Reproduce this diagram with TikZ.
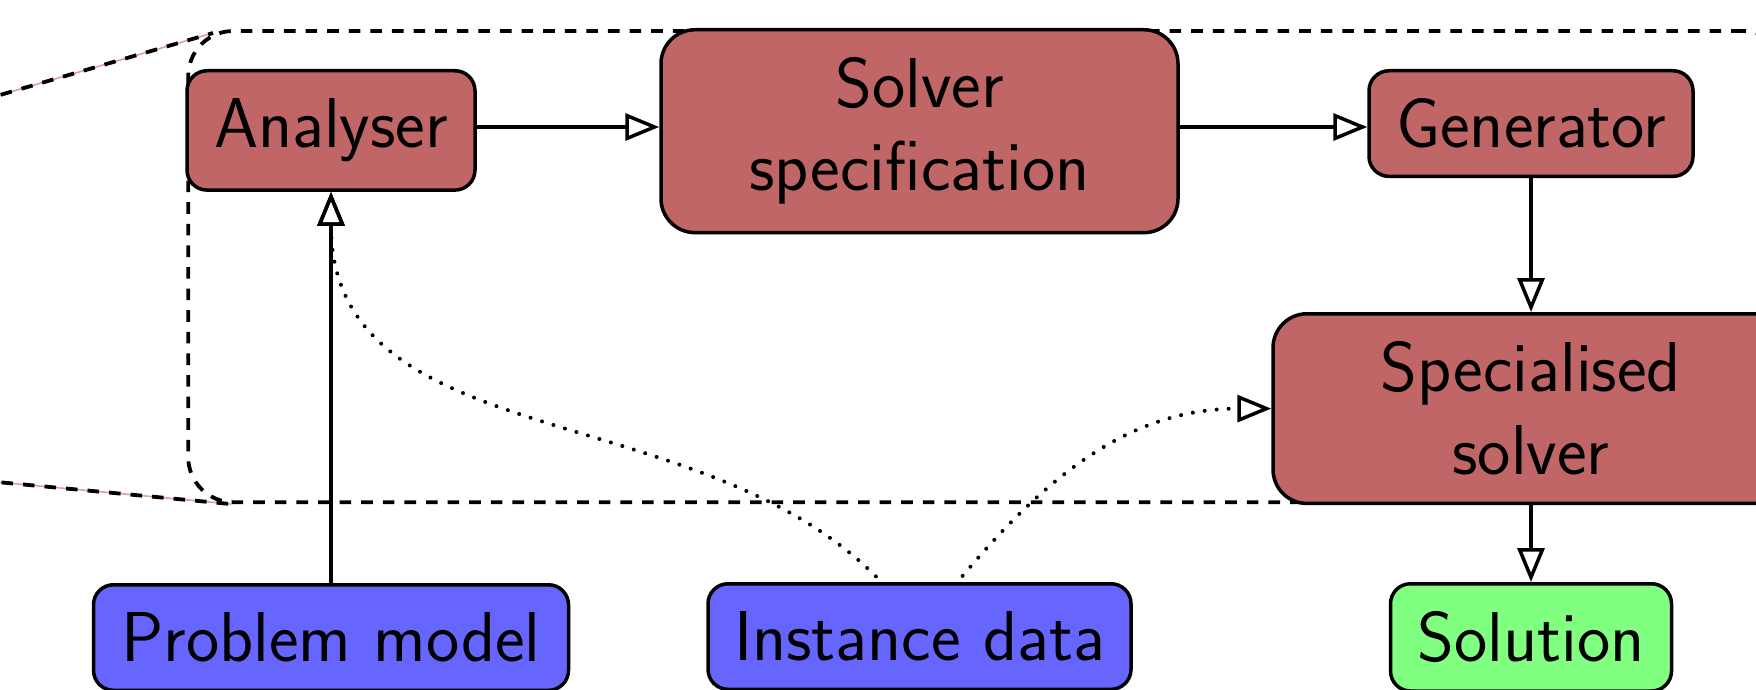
\documentclass[tikz,border=0pt]{standalone}
\usetikzlibrary{arrows.meta,fit,backgrounds}
\definecolor{boxred}{RGB}{192,102,102}
\definecolor{boxblue}{RGB}{102,102,255}
\definecolor{boxgreen}{RGB}{128,255,128}
\definecolor{zoompink}{RGB}{225,160,160}
\tikzset{
  box/.style={draw=black, line width=1.75pt, rounded corners=10pt,
    inner xsep=8pt, inner ysep=14pt, anchor=north, align=center,
    font=\sffamily\fontsize{35.3}{41.5}\selectfont},
  bigbox/.style={box, rounded corners=17pt},
  proc/.style={fill=boxred},
  inp/.style={fill=boxblue},
  outp/.style={fill=boxgreen},
  arr/.style={line width=1.75pt, -{Triangle[open,length=17pt,width=13.5pt]}},
  dotarr/.style={line width=2pt, line cap=round, dash pattern=on 0pt off 6pt,
    -{Triangle[open,length=17pt,width=13.5pt,line width=1.75pt]}},
  grpline/.style={line width=1.9pt, dash pattern=on 5.8pt off 5pt},
  pinkline/.style={draw=zoompink, line width=0.8pt},
}
\begin{document}
\begin{tikzpicture}[x=0.5pt,y=-0.5pt]
\useasboundingbox (0,0) rectangle (1756,690);

\node[box,proc,minimum width=144pt] (ana) at (331,69) {Analyser};
\node[bigbox,proc,minimum width=258.5pt] (spec) at (919.5,28) {Solver\\specification};
\node[box,proc,minimum width=162pt] (gen) at (1531,69) {Generator};
\node[bigbox,proc,minimum width=258pt] (ssol) at (1531,312) {Specialised\\solver};
\node[box,inp,minimum width=237.5pt] (prob) at (331,583) {Problem model};
\node[box,inp,minimum width=211.5pt] (inst) at (919.5,582) {Instance data};
\node[box,outp,minimum width=140.5pt] (sol) at (1531,582) {Solution};

\begin{pgfonlayer}{background}
  \node[fit=(ana)(spec)(ssol), inner sep=-1.5pt, draw, grpline, rounded corners=22.5pt] (grp) {};
  \coordinate (zu) at (-20,100.8);
  \coordinate (zuend) at (213,33);
  \coordinate (zl) at (-20,480.4);
  \coordinate (zlend) at ([xshift=22.5pt]grp.south west);
  \draw[pinkline] (zu) -- (zuend);
  \draw[grpline] (zu) -- (zuend);
  \draw[pinkline] (zl) -- (zlend);
  \draw[grpline] (zl) -- (zlend);
\end{pgfonlayer}

\coordinate (a1) at ([yshift=1.7pt]ana.east);
\coordinate (s1) at (spec.east |- a1);
\draw[arr] (a1) -- (a1 -| spec.west);
\draw[arr] (s1) -- (s1 -| gen.west);
\draw[arr] (gen.south) -- (ssol.north);
\draw[arr] (ssol.south) -- (sol.north);
\draw[arr] (prob.north) -- (ana.south);

\coordinate (i1) at ([xshift=-19pt]inst.north);
\coordinate (i2) at ([xshift=19pt]inst.north);
\draw[dotarr, shorten <=4pt] (i1) to[out=135,in=-90] (ana.south);
\draw[dotarr, shorten <=4pt] (i2) to[out=50,in=180] (ssol.west);
\end{tikzpicture}
\end{document}
